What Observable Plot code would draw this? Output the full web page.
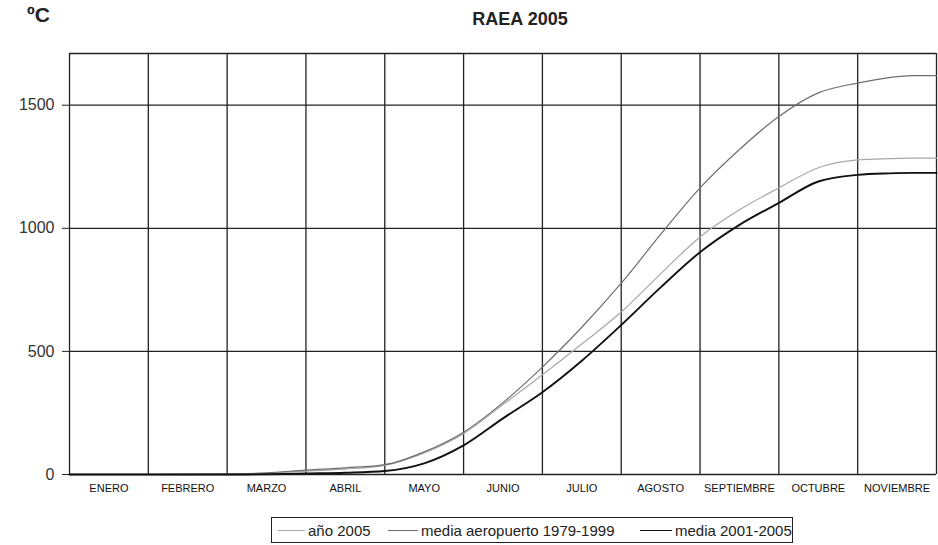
<!DOCTYPE html>
<html>
<head>
<meta charset="utf-8">
<script src="https://cdn.jsdelivr.net/npm/d3@7"></script>
<script src="https://cdn.jsdelivr.net/npm/@observablehq/plot@0.6"></script>
<style>
  body { margin: 0; background: #fff; font-family: "Liberation Sans", Arial, sans-serif; }
  #wrap { position: relative; width: 938px; height: 545px; }
  #unit { position: absolute; left: 27px; top: 3px; font-size: 21px; font-weight: bold; color: #222; }
  #title { position: absolute; left: 0; width: 1040px; top: 9px; text-align: center; font-size: 18px; font-weight: bold; color: #222; }
  #legend { position: absolute; left: 271px; top: 517px; width: 522px; height: 26px; border: 1px solid #222; box-sizing: border-box;
            font-size: 15px; color: #222; }
  .item { position: absolute; top: 0; height: 24px; display: flex; align-items: center; white-space: nowrap; }
  .sw { margin-right: 3px; }
</style>
</head>
<body>
<div id="wrap">
  <div id="chart"></div>
  <div id="unit">ºC</div>
  <div id="title">RAEA 2005</div>
  <div id="legend"></div>
</div>
<script>
// x: month position (0 = 1 enero, 11 = fin de noviembre)
const t = [0, 1, 2, 2.5, 3, 3.5, 4, 4.5, 5, 5.5, 6, 6.5, 7, 7.5, 8, 8.5, 9, 9.5, 10, 10.4, 10.7, 11];
const mediaAeropuerto = [0, 0, 2, 7, 18, 27, 40, 92, 172, 292, 436, 598, 777, 975, 1164, 1320, 1454, 1550, 1590, 1612, 1620, 1620];
const ano2005 = [0, 0, 1, 5, 14, 22, 37, 88, 166, 284, 405, 530, 660, 815, 965, 1075, 1164, 1246, 1278, 1283, 1285, 1285];
const media20012005 = [0, 0, 0, 1, 4, 7, 14, 45, 118, 228, 334, 462, 607, 760, 903, 1014, 1103, 1190, 1217, 1223, 1225, 1225];
const months = ["ENERO", "FEBRERO", "MARZO", "ABRIL", "MAYO", "JUNIO", "JULIO", "AGOSTO", "SEPTIEMBRE", "OCTUBRE", "NOVIEMBRE"];
const yTicks = [0, 500, 1000, 1500];
const seriesNames = ["año 2005", "media aeropuerto 1979-1999", "media 2001-2005"];
const seriesColors = ["#a8a8a8", "#6e6e6e", "#111111"];
const seriesWidths = [1.2, 1.2, 1.9];

const rows = [];
const seriesValues = [ano2005, mediaAeropuerto, media20012005];
seriesValues.forEach((vals, s) => vals.forEach((v, i) => rows.push({x: t[i], y: v, s: seriesNames[s]})));

const bounds = d3.range(0, months.length + 1);

const chart = Plot.plot({
  width: 938,
  height: 545,
  marginTop: 53,
  marginBottom: 71,
  marginLeft: 69,
  marginRight: 2,
  style: {fontFamily: "Liberation Sans, Arial, sans-serif", background: "#fff"},
  x: {domain: [0, 11]},
  y: {domain: [0, 1710]},
  marks: [
    Plot.ruleY(yTicks, {stroke: "#222", strokeWidth: 1.3}),
    Plot.ruleY([1710], {stroke: "#222", strokeWidth: 1.3}),
    Plot.ruleX(bounds, {stroke: "#222", strokeWidth: 1.3}),
    Plot.axisY({ticks: yTicks, tickFormat: d3.format("d"), tickSize: 7, tickPadding: 8, fontSize: 16, color: "#333", label: null, stroke: "#222"}),
    Plot.axisX({ticks: months.map((m, i) => i + 0.5), tickFormat: (d) => months[Math.floor(d)], tickSize: 0, tickPadding: 10, fontSize: 11, color: "#111", label: null}),
    seriesNames.map((name, s) => Plot.line(rows.filter(r => r.s === name), {
      x: "x", y: "y", stroke: seriesColors[s], strokeWidth: seriesWidths[s], curve: "monotone-x"
    }))
  ]
});
document.getElementById("chart").append(chart);

// legend item left offsets (inside box) and swatch widths
const legendLeft = [6, 116, 368];
const swatchW = [27, 30, 32];
const legend = document.getElementById("legend");
seriesNames.forEach((name, s) => {
  const it = document.createElement("div");
  it.className = "item";
  it.style.left = legendLeft[s] + "px";
  const sw = document.createElement("div");
  sw.className = "sw";
  sw.style.width = swatchW[s] + "px";
  sw.style.borderTop = seriesWidths[s] + "px solid " + seriesColors[s];
  it.append(sw, document.createTextNode(name));
  legend.append(it);
});
</script>
</body>
</html>
